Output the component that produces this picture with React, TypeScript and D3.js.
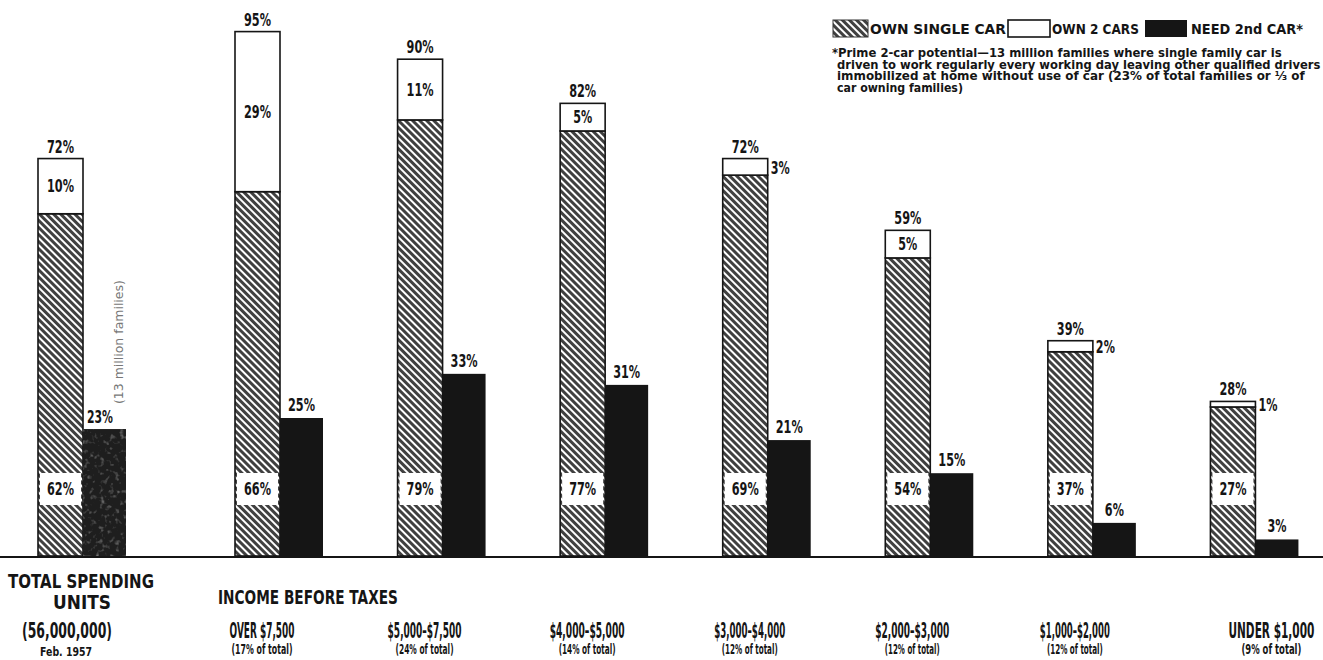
import React from "react";
import * as d3 from "d3";

const categories = ["TOTAL", "OVER $7,500", "$5,000–$7,500", "$4,000–$5,000", "$3,000–$4,000", "$2,000–$3,000", "$1,000–$2,000", "UNDER $1,000"];
const shareLabels = ["", "(17% of total)", "(24% of total)", "(14% of total)", "(12% of total)", "(12% of total)", "(12% of total)", "(9% of total)"];
const singleCar = [62, 66, 79, 77, 69, 54, 37, 27];
const twoCars = [10, 29, 11, 5, 3, 5, 2, 1];
const totalOwning = [72, 95, 90, 82, 72, 59, 39, 28];
const need2nd = [23, 25, 33, 31, 21, 15, 6, 3];
const legendLabels = ["OWN SINGLE CAR", "OWN 2 CARS", "NEED 2nd CAR*"];
const footnote = [
  "*Prime 2-car potential—13 million families where single family car is",
  "driven to work regularly every working day leaving other qualified drivers",
  "immobilized at home without use of car (23% of total families or ⅓ of",
  "car owning families)",
];

const W = 1323;
const H = 660;
const FONT = "'DejaVu Sans', sans-serif";
const INK = "#151515";

let ctx: CanvasRenderingContext2D | null = null;
function measure(text: string, size: number, weight: string) {
  if (!ctx) ctx = document.createElement("canvas").getContext("2d");
  if (!ctx) return text.length * size * 0.6;
  ctx.font = `${weight} ${size}px 'DejaVu Sans', sans-serif`;
  return ctx.measureText(text).width;
}

type FitProps = {
  x: number;
  y: number;
  text: string;
  width: number;
  size: number;
  anchor?: "start" | "middle" | "end";
  weight?: string;
  fill?: string;
  rotate?: number;
};

function FitText({ x, y, text, width, size, anchor = "start", weight = "bold", fill = INK, rotate = 0 }: FitProps) {
  const natural = measure(text, size, weight);
  const sx = width / natural;
  return (
    <text
      transform={`translate(${x},${y}) rotate(${rotate}) scale(${sx},1)`}
      textAnchor={anchor}
      fontSize={size}
      fontWeight={weight}
      fill={fill}
    >
      {text}
    </text>
  );
}

const pctWidth = (s: string) => (s.length - 1) * 8 + 11;

function Pct({ x, y, text, anchor = "middle" }: { x: number; y: number; text: string; anchor?: "start" | "middle" | "end" }) {
  return <FitText x={x} y={y} text={text} width={pctWidth(text)} size={17.5} anchor={anchor} />;
}

export default function App() {
  const y = d3.scaleLinear().domain([0, 100]).range([556, 4]);
  const incomeCats = categories.slice(1);
  const xBand = d3.scaleBand<string>().domain(incomeCats).range([222, 1360]).padding(0);
  const hatchW = 45;
  const blackW = 43;
  const leftOf = (i: number) => (i === 0 ? 38 : (xBand(categories[i]) as number) + 13);

  const labelCenter = (i: number) => leftOf(i) + (i === 7 ? 61 : 27);
  const catWidths = [0, 65, 74, 75, 71, 74, 70, 86];
  const shareWidths = [0, 61, 58, 57, 56, 55, 56, 60];

  return (
    <svg width={W} height={H} style={{ position: "absolute", left: 0, top: 0, background: "#fff" }} fontFamily={FONT}>
      <defs>
        <pattern id="hatch" patternUnits="userSpaceOnUse" width="5" height="5" patternTransform="rotate(-45)">
          <rect width="5" height="5" fill="#fff" />
          <rect x="0" y="0" width="3" height="5" fill="#404040" />
        </pattern>
        <filter id="mottle" x="0" y="0" width="100%" height="100%">
          <feTurbulence type="fractalNoise" baseFrequency="0.2" numOctaves="2" seed="5" result="n" />
          <feColorMatrix in="n" type="matrix" values="0 0 0 0 0.45  0 0 0 0 0.45  0 0 0 0 0.45  0 0 0 -3 1.35" result="spots" />
          <feComposite in="spots" in2="SourceGraphic" operator="in" />
        </filter>
      </defs>

      {categories.map((c, i) => {
        const x0 = leftOf(i);
        const ySingle = y(singleCar[i]);
        const yTop = y(totalOwning[i]);
        const yNeed = y(need2nd[i]);
        const base = y(0);
        const segMid = (yTop + ySingle) / 2;
        const inside = twoCars[i] >= 5;
        return (
          <g key={c}>
            <rect x={x0} y={ySingle} width={hatchW} height={base - ySingle} fill="url(#hatch)" stroke={INK} strokeWidth={1.6} />
            <rect x={x0} y={yTop} width={hatchW} height={ySingle - yTop} fill="#fff" stroke={INK} strokeWidth={1.6} />
            <rect x={x0 + hatchW} y={yNeed} width={blackW} height={base - yNeed} fill={i === 0 ? "#1e1e1e" : INK} />
            {i === 0 && (
              <rect x={x0 + hatchW} y={yNeed} width={blackW} height={base - yNeed} fill="#555" opacity={0.55} filter="url(#mottle)" />
            )}
            <rect x={x0 + 2} y={473} width={hatchW - 4} height={32} fill="#fff" />
            <Pct x={x0 + hatchW / 2} y={495} text={`${singleCar[i]}%`} />
            {inside ? (
              <Pct x={x0 + hatchW / 2} y={segMid + 6} text={`${twoCars[i]}%`} />
            ) : (
              <Pct x={x0 + hatchW + 3} y={segMid + 7} text={`${twoCars[i]}%`} anchor="start" />
            )}
            <Pct x={x0 + hatchW / 2} y={yTop - 6} text={`${totalOwning[i]}%`} />
            {i === 0 ? (
              <FitText x={x0 + hatchW + 4} y={yNeed - 6} text={`${need2nd[i]}%`} width={26} size={17.5} />
            ) : (
              <Pct x={x0 + hatchW + blackW / 2} y={yNeed - 7} text={`${need2nd[i]}%`} />
            )}
            {i > 0 && (
              <>
                <FitText x={labelCenter(i)} y={638} text={c} width={catWidths[i]} size={21} anchor="middle" />
                <FitText x={labelCenter(i)} y={654} text={shareLabels[i]} width={shareWidths[i]} size={14} anchor="middle" />
              </>
            )}
          </g>
        );
      })}

      <FitText x={leftOf(0) + hatchW + 40} y={404} text="(13 million families)" width={124} size={12} weight="normal" fill="#777" rotate={-90} />

      <line x1={0} x2={W} y1={557} y2={557} stroke={INK} strokeWidth={2.2} />

      <FitText x={81} y={588} text="TOTAL SPENDING" width={146} size={20} anchor="middle" />
      <FitText x={82} y={609} text="UNITS" width={58} size={20} anchor="middle" />
      <FitText x={67} y={638} text="(56,000,000)" width={90} size={21} anchor="middle" />
      <FitText x={66} y={656} text="Feb. 1957" width={52} size={13} anchor="middle" />
      <FitText x={218} y={604} text="INCOME BEFORE TAXES" width={180} size={19} />

      <rect x={833} y={20} width={35} height={17} fill="url(#hatch)" stroke="#333" strokeWidth={1} />
      <FitText x={870} y={34} text={legendLabels[0]} width={136} size={14} />
      <rect x={1008} y={20} width={42} height={17} fill="#fff" stroke={INK} strokeWidth={1.6} />
      <FitText x={1052} y={34} text={legendLabels[1]} width={87} size={14} />
      <rect x={1145} y={20} width={42} height={17} fill={INK} />
      <FitText x={1191} y={34} text={legendLabels[2]} width={112} size={14} />

      {footnote.map((line, i) => (
        <FitText key={i} x={i === 0 ? 832 : 837} y={57 + i * 11.5} text={line} width={[450, 484, 468, 126][i]} size={12} />
      ))}
    </svg>
  );
}
